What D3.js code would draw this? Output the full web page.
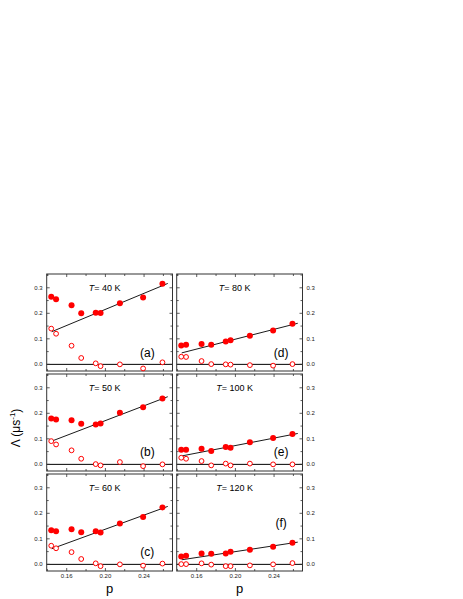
<!DOCTYPE html>
<html><head><meta charset="utf-8">
<script src="https://cdn.jsdelivr.net/npm/d3@7"></script>
<style>body{margin:0;background:#fff}svg{display:block}text{font-family:"Liberation Sans",Arial,sans-serif}</style>
</head><body><svg id="c" width="463" height="599"></svg>
<script>
// ---- data ----
const pValues = [0.144, 0.149, 0.165, 0.175, 0.190, 0.195, 0.215, 0.239, 0.259];
const temps = [40, 50, 60, 80, 100, 120];
const panelTags = ["(a)", "(b)", "(c)", "(d)", "(e)", "(f)"];
const filled40  = [0.265, 0.255, 0.232, 0.200, 0.202, 0.201, 0.239, 0.262, 0.316];
const open40    = [0.140, 0.120, 0.073, 0.025, 0.004, -0.007, 0.000, -0.016, 0.008];
const filled50  = [0.180, 0.176, 0.173, 0.159, 0.156, 0.160, 0.202, 0.224, 0.258];
const open50    = [0.091, 0.078, 0.055, 0.022, 0.001, -0.004, 0.009, -0.007, 0.000];
const filled60  = [0.134, 0.130, 0.138, 0.126, 0.130, 0.125, 0.160, 0.186, 0.223];
const open60    = [0.073, 0.063, 0.048, 0.021, 0.004, -0.007, 0.000, -0.005, 0.003];
const filled80  = [0.074, 0.077, 0.080, 0.077, 0.090, 0.094, 0.112, 0.133, 0.159];
const open80    = [0.030, 0.029, 0.013, 0.001, 0.000, -0.001, -0.003, -0.005, 0.001];
const filled100 = [0.057, 0.057, 0.061, 0.052, 0.068, 0.065, 0.087, 0.103, 0.119];
const open100   = [0.026, 0.022, 0.013, -0.004, 0.003, -0.004, 0.003, 0.000, 0.000];
const filled120 = [0.031, 0.034, 0.043, 0.042, 0.043, 0.049, 0.057, 0.069, 0.085];
const open120   = [0.001, 0.001, 0.004, -0.001, -0.007, -0.007, -0.004, 0.000, 0.005];
const fitP   = [0.1445, 0.2645];
const fit40  = [0.128, 0.317];
const fit50  = [0.091, 0.265];
const fit60  = [0.061, 0.227];
const fit80  = [0.045, 0.161];
const fit100 = [0.033, 0.121];
const fit120 = [0.018, 0.087];
const xTicksMajor = [0.16, 0.20, 0.24];
const xTicksMinor = [0.14, 0.18, 0.22, 0.26];
const yTicksMajor = [0.0, 0.1, 0.2, 0.3];
const yTicksMinor = [0.05, 0.15, 0.25, 0.35];

const filledSets = [filled40, filled50, filled60, filled80, filled100, filled120];
const openSets = [open40, open50, open60, open80, open100, open120];
const fitSets = [fit40, fit50, fit60, fit80, fit100, fit120];

// ---- layout ----
const svg = d3.select("#c");
const colX = [46.7, 176.7], panelW = 125.8;
const rowY = [274, 374, 474], panelH = 97;
const red = "#ff0000";
const frameCol = "#333";
const tagPos = [[0.80, 0.81], [0.80, 0.80], [0.80, 0.80], [0.83, 0.81], [0.83, 0.80], [0.83, 0.505]];

for (let i = 0; i < 6; i++) {
  const col = i < 3 ? 0 : 1, row = i % 3;
  const x0 = colX[col], y0 = rowY[row];
  const x = d3.scaleLinear().domain([0.1393, 0.2694]).range([x0, x0 + panelW]);
  const y = d3.scaleLinear().domain([-0.026, 0.354]).range([y0 + panelH, y0]);
  const g = svg.append("g");

  // zero line
  g.append("line").attr("x1", x0).attr("x2", x0 + panelW)
    .attr("y1", y(0)).attr("y2", y(0)).attr("stroke", "#000").attr("stroke-width", 1);

  // ticks (inward on all sides)
  const tk = (vals, len) => {
    vals.forEach(v => {
      const xx = x(v);
      g.append("line").attr("x1", xx).attr("x2", xx).attr("y1", y0 + panelH).attr("y2", y0 + panelH - len).attr("stroke", frameCol).attr("stroke-width", 0.8);
      g.append("line").attr("x1", xx).attr("x2", xx).attr("y1", y0).attr("y2", y0 + len).attr("stroke", frameCol).attr("stroke-width", 0.8);
    });
  };
  tk(xTicksMajor, 3); tk(xTicksMinor, 2);
  const tky = (vals, len) => {
    vals.forEach(v => {
      const yy = y(v);
      if (yy < y0 || yy > y0 + panelH) return;
      g.append("line").attr("x1", x0).attr("x2", x0 + len).attr("y1", yy).attr("y2", yy).attr("stroke", frameCol).attr("stroke-width", 0.8);
      g.append("line").attr("x1", x0 + panelW).attr("x2", x0 + panelW - len).attr("y1", yy).attr("y2", yy).attr("stroke", frameCol).attr("stroke-width", 0.8);
    });
  };
  tky(yTicksMajor, 3); tky(yTicksMinor, 2);

  // frame
  g.append("rect").attr("x", x0).attr("y", y0).attr("width", panelW).attr("height", panelH)
    .attr("fill", "none").attr("stroke", frameCol).attr("stroke-width", 1);

  // y tick labels
  yTicksMajor.forEach(v => {
    g.append("text").attr("x", col === 0 ? x0 - 4 : x0 + panelW + 4).attr("y", y(v)).attr("dy", "0.35em")
      .attr("text-anchor", col === 0 ? "end" : "start").attr("font-size", 6).attr("fill", "#222").text(v.toFixed(1));
  });
  // x tick labels (bottom row)
  if (row === 2) {
    xTicksMajor.forEach(v => {
      g.append("text").attr("x", x(v)).attr("y", y0 + panelH + 7).attr("text-anchor", "middle")
        .attr("font-size", 6).attr("fill", "#222").text(v.toFixed(2));
    });
    g.append("text").attr("x", x0 + panelW / 2).attr("y", 593).attr("text-anchor", "middle")
      .attr("font-size", 13).text("p");
  }

  // fit line
  g.append("line").attr("x1", x(fitP[0])).attr("x2", x(fitP[1]))
    .attr("y1", y(fitSets[i][0])).attr("y2", y(fitSets[i][1])).attr("stroke", "#000").attr("stroke-width", 0.9);

  // open circles
  g.selectAll(".o").data(openSets[i]).enter().append("circle")
    .attr("cx", (d, k) => x(pValues[k])).attr("cy", d => y(d)).attr("r", 2.4)
    .attr("fill", "#fff").attr("stroke", red).attr("stroke-width", 1);
  // filled circles
  g.selectAll(".f").data(filledSets[i]).enter().append("circle")
    .attr("cx", (d, k) => x(pValues[k])).attr("cy", d => y(d)).attr("r", 3)
    .attr("fill", red).attr("stroke", "none");

  // temperature label
  const t = g.append("text").attr("x", x0 + panelW * 0.46).attr("y", y0 + 17).attr("text-anchor", "middle").attr("font-size", 9);
  t.append("tspan").attr("font-style", "italic").text("T");
  t.append("tspan").text("= " + temps[i] + " K");

  // panel tag
  g.append("text").attr("x", x0 + panelW * tagPos[i][0]).attr("y", y0 + panelH * tagPos[i][1]).attr("dy", "0.35em")
    .attr("text-anchor", "middle").attr("font-size", 12).text(panelTags[i]);
}

// y axis label
const yl = svg.append("text").attr("transform", "translate(20,428) rotate(-90)").attr("text-anchor", "middle").attr("font-size", 12);
yl.append("tspan").text("\u039B (\u03BCs");
yl.append("tspan").attr("font-size", 8).attr("dy", -5).text("-1");
yl.append("tspan").attr("dy", 5).text(")");
</script></body></html>
